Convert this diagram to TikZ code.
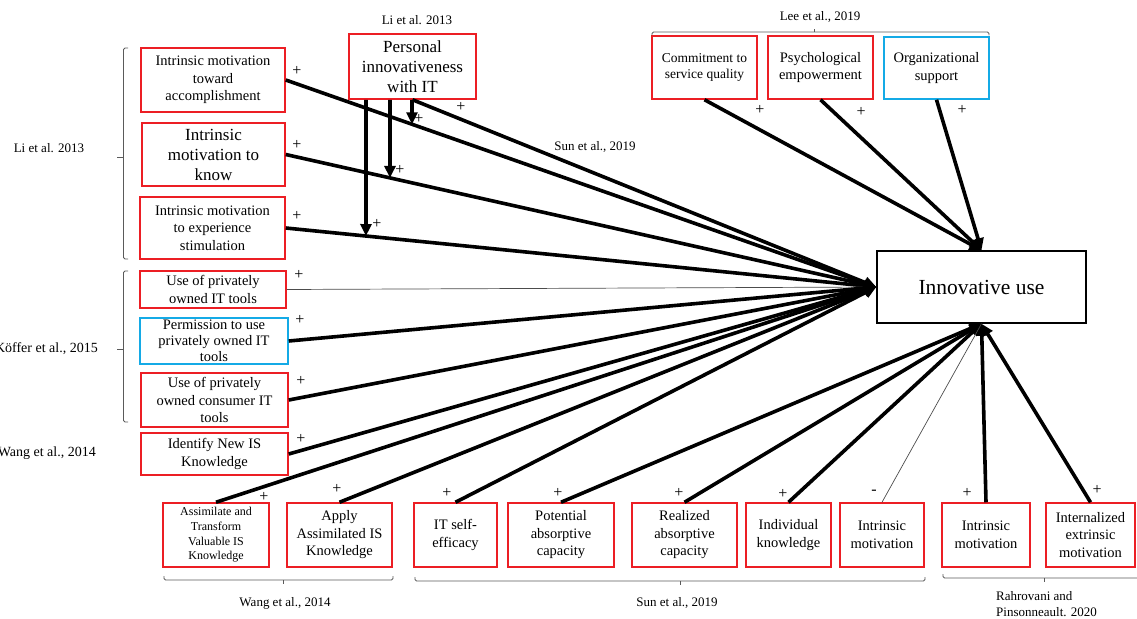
\documentclass[tikz,border=0pt]{standalone}
\usepackage{fontspec}
\setmainfont{Liberation Serif}
\usetikzlibrary{arrows.meta,calc}
\definecolor{boxred}{RGB}{236,30,36}
\definecolor{boxblue}{RGB}{20,170,230}
\definecolor{brk}{RGB}{90,90,90}
\tikzset{
  rbox/.style={draw=boxred, line width=1.5pt, inner sep=0pt, align=center, font=\fontsize{14.5}{17.5}\selectfont},
  bbox/.style={rbox, draw=boxblue},
  botbox/.style={rbox, minimum height=64},
  lab/.style={font=\fontsize{13}{16}\selectfont, inner sep=0pt},
  pl/.style={font=\fontsize{16}{16}\selectfont, inner sep=0pt},
  link/.style={line width=3.6pt, -{Triangle[length=12pt,width=11pt]}},
  thinlink/.style={line width=0.7pt, draw=black!70},
  brace/.style={draw=brk, line width=0.8pt, rounded corners=1.5pt},
}
\begin{document}
\begin{tikzpicture}[x=1pt,y=-1pt]
\useasboundingbox (0,0) rectangle (1137,618);

% left column
\node[rbox, minimum width=144, minimum height=64] (b1) at (213,80) {Intrinsic motivation\\toward\\accomplishment};
\node[rbox, minimum width=143, minimum height=63, font=\fontsize{17}{20}\selectfont] (b2) at (213.5,154.5) {Intrinsic\\motivation to\\know};
\node[rbox, minimum width=145, minimum height=62] (b3) at (212.5,228) {Intrinsic motivation\\to experience\\stimulation};
\node[rbox, minimum width=146, minimum height=37] (b4) at (213,289.5) {Use of privately\\owned IT tools};
\node[bbox, minimum width=148, minimum height=46, font=\fontsize{14.5}{16}\selectfont] (b5) at (214,341) {Permission to use\\privately owned IT\\tools};
\node[rbox, minimum width=147, minimum height=54] (b6) at (214.5,400) {Use of privately\\owned consumer IT\\tools};
\node[rbox, minimum width=147, minimum height=42] (b7) at (214.5,454) {Identify New IS\\Knowledge};

% personal innovativeness
\node[rbox, minimum width=127, minimum height=65, font=\fontsize{17}{20}\selectfont] (PI) at (412.5,66.5) {Personal\\innovativeness\\with IT};

% top boxes
\node[rbox, minimum width=105, minimum height=63, font=\fontsize{13.5}{16.5}\selectfont] (c1) at (704.5,67.5) {Commitment to\\service quality};
\node[rbox, minimum width=105, minimum height=63] (c2) at (820.5,67.5) {Psychological\\empowerment};
\node[bbox, minimum width=105, minimum height=62] (c3) at (936.5,68) {Organizational\\support};

% innovative use
\node[draw, line width=1.5pt, inner sep=0pt, minimum width=209, minimum height=72, font=\fontsize{21.5}{24}\selectfont] (IU) at (981.5,287) {Innovative use};

% bottom boxes
\node[botbox, minimum width=106, font=\fontsize{12}{14.7}\selectfont] (d1) at (216,535) {Assimilate and\\Transform\\Valuable IS\\Knowledge};
\node[botbox, minimum width=105] (d2) at (339.5,535) {Apply\\Assimilated IS\\Knowledge};
\node[botbox, minimum width=83] (d3) at (455.5,535) {IT self-\\efficacy};
\node[botbox, minimum width=106] (d4) at (561,535) {Potential\\absorptive\\capacity};
\node[botbox, minimum width=105] (d5) at (684.5,535) {Realized\\absorptive\\capacity};
\node[botbox, minimum width=85] (d6) at (788.5,535) {Individual\\knowledge};
\node[botbox, minimum width=84] (d7) at (882,535) {Intrinsic\\motivation};
\node[botbox, minimum width=88] (d8) at (986,535) {Intrinsic\\motivation};
\node[botbox, minimum width=89] (d9) at (1090.5,535) {Internalized\\extrinsic\\motivation};

% labels
\node[lab] (lLi1) at (417,20) {Li et al. 2013};
\node[lab] (lLi2) at (49,148) {Li et al. 2013};
\node[lab, anchor=east, font=\fontsize{14}{16}\selectfont] (lKo) at (98,349) {Köffer et al., 2015};
\node[lab, anchor=east, font=\fontsize{14}{16}\selectfont] (lWa1) at (96,453) {Wang et al., 2014};
\node[lab] (lLee) at (820,17) {Lee et al., 2019};
\node[lab] (lSun1) at (595,147) {Sun et al., 2019};
\node[lab] (lWa2) at (285,603) {Wang et al., 2014};
\node[lab] (lSun2) at (677,603) {Sun et al., 2019};
\node[lab, anchor=north west, align=left] (lRa) at (996,591) {Rahrovani and\\Pinsonneault. 2020};

% brackets
\draw[brace] (128,48) -- (123.5,48) -- (123.5,259) -- (128,259);
\draw[brace] (123.5,157) -- (117,157);
\draw[brace] (128,271) -- (123.5,271) -- (123.5,422) -- (128,422);
\draw[brace] (123.5,349) -- (117,349);
\draw[brace] (652,35.5) -- (652,32) -- (989,32) -- (989,35.5);
\draw[brace] (814,32) -- (814,29);
\draw[brace] (164,576) -- (164,580) -- (393,580) -- (393,576);
\draw[brace] (283,580) -- (283,584);
\draw[brace] (415,577) -- (415,581) -- (925,581) -- (925,577);
\draw[brace] (680,581) -- (680,585);
\draw[brace] (943,574) -- (943,578) -- (1145,578);
\draw[brace] (1044,578) -- (1044,582);

% connectors to the left side of Innovative use
\draw[link] (b1.east) -- (IU.west);
\draw[link] (b2.east) -- (IU.west);
\draw[link] (b3.east) -- (IU.west);
\draw[thinlink] (b4.east) -- (IU.west);
\draw[link] (b5.east) -- (IU.west);
\draw[link] (b6.east) -- (IU.west);
\draw[link] (b7.east) -- (IU.west);
\draw[link] (PI.south) -- (IU.west);
\draw[link] (d1.north) -- (IU.west);
\draw[link] (d2.north) -- (IU.west);
\draw[link] (d3.north) -- (IU.west);

% connectors to the bottom
\draw[link] (d4.north) -- (IU.south);
\draw[link] (d5.north) -- (IU.south);
\draw[link] (d6.north) -- (IU.south);
\draw[thinlink] (d7.north) -- (IU.south);
\draw[link] (d8.north) -- (IU.south);
\draw[link] (d9.north) -- (IU.south);

% connectors to the top
\draw[link] (c1.south) -- (IU.north);
\draw[link] (c2.south) -- (IU.north);
\draw[link] (c3.south) -- (IU.north);

% moderating arrows
\coordinate (x1) at (412,0);  \coordinate (x1b) at (412,400);
\coordinate (x2) at (390,0);  \coordinate (x2b) at (390,400);
\coordinate (x3) at (366,0);  \coordinate (x3b) at (366,400);
\coordinate (m1) at (intersection of b1.east--IU.west and x1--x1b);
\coordinate (m2) at (intersection of b2.east--IU.west and x2--x2b);
\coordinate (m3) at (intersection of b3.east--IU.west and x3--x3b);
\draw[link] (PI.south -| x1) -- (m1);
\draw[link] (PI.south -| x2) -- (m2);
\draw[link] (PI.south -| x3) -- (m3);

% signs
\node[pl] (s1) at (297,71) {+};
\node[pl] (s2) at (297,145) {+};
\node[pl] (s3) at (297,216) {+};
\node[pl] (s4) at (299,275) {+};
\node[pl] (s5) at (300,320) {+};
\node[pl] (s6) at (301,381) {+};
\node[pl] (s7) at (301,439) {+};
\node[pl] (s8) at (461,107) {+};
\node[pl] (s9) at (419,119) {+};
\node[pl] (s10) at (400,170) {+};
\node[pl] (s11) at (377,224) {+};
\node[pl] (s12) at (760,110) {+};
\node[pl] (s13) at (861,112) {+};
\node[pl] (s14) at (962,110) {+};
\node[pl] (s15) at (264,497) {+};
\node[pl] (s16) at (337,489) {+};
\node[pl] (s17) at (447,493) {+};
\node[pl] (s18) at (558,493) {+};
\node[pl] (s19) at (679,493) {+};
\node[pl] (s20) at (783,494) {+};
\node[pl] (s21) at (874,492) {-};
\node[pl] (s22) at (967,493) {+};
\node[pl] (s23) at (1097,490) {+};
\end{tikzpicture}
\end{document}
